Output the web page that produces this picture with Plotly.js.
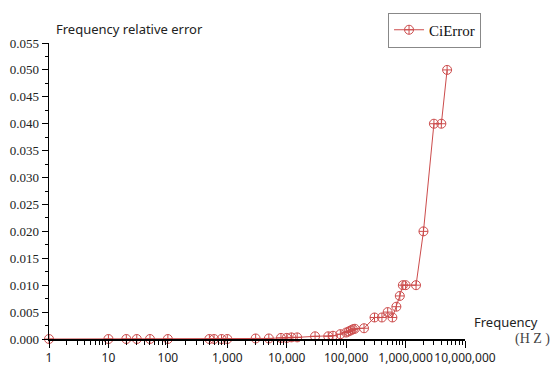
<!DOCTYPE html>
<html>
<head>
<meta charset="utf-8">
<script src="https://cdn.plot.ly/plotly-3.0.1.min.js"></script>
<style>html,body{margin:0;padding:0;background:#fff;}#chart{width:550px;height:375px;}</style>
</head>
<body>
<div id="chart"></div>
<script>
var seriesName = "CiError";
var frequency = [1, 10, 20, 30, 50, 100, 500, 600, 800, 1000, 3000, 5000, 8000, 10000, 12000, 15000, 30000, 50000, 60000, 80000, 100000, 110000, 120000, 130000, 140000, 200000, 300000, 400000, 500000, 600000, 700000, 800000, 900000, 1000000, 1500000, 2000000, 3000000, 4000000, 5000000];
var relError = [0, 0, 0, 0, 0, 0, 0, 0, 0, 0, 0.0001, 0.0001, 0.0002, 0.0002, 0.0003, 0.0003, 0.0005, 0.0005, 0.0006, 0.0009, 0.0012, 0.0014, 0.0016, 0.0018, 0.0019, 0.002, 0.004, 0.004, 0.005, 0.004, 0.006, 0.008, 0.010, 0.010, 0.010, 0.020, 0.040, 0.040, 0.050];
var yTickVals = [0, 0.005, 0.010, 0.015, 0.020, 0.025, 0.030, 0.035, 0.040, 0.045, 0.050, 0.055];
var xTickVals = [1, 10, 100, 1000, 10000, 100000, 1000000, 10000000];
var xTickText = ["1", "10", "100", "1,000", "10,000", "100,000", "1,000,000", "10,000,000"];

var red = "#cc4c4c";
var trace = {
  x: frequency, y: relError, type: "scatter", mode: "lines+markers", name: seriesName,
  line: {color: red, width: 1},
  marker: {symbol: "circle-cross-open", size: 9, color: red, line: {width: 1, color: red}},
  cliponaxis: false
};
var layout = {
  width: 550, height: 375,
  margin: {l: 49, r: 85, t: 33, b: 36},
  paper_bgcolor: "#fff", plot_bgcolor: "#fff",
  showlegend: true,
  legend: {x: 0.815, y: 1.103, xanchor: "left", yanchor: "top", bordercolor: "#888", borderwidth: 1,
           font: {family: "Liberation Serif", size: 15, color: "#111"}, bgcolor: "#fff",
           tracegroupgap: 0, itemwidth: 30},
  xaxis: {type: "log", range: [0, 7], tickvals: xTickVals, ticktext: xTickText, tickangle: 0,
          automargin: false,
          ticks: "outside", ticklen: 7, tickwidth: 1, tickcolor: "#000",
          showline: true, linecolor: "#000", linewidth: 1.5, showgrid: false, zeroline: false,
          tickfont: {family: "Noto Sans", size: 12, color: "#222"},
          minor: {ticks: "outside", ticklen: 4, tickcolor: "#000", dtick: "D1", showgrid: false}},
  yaxis: {range: [0, 0.055], tickvals: yTickVals, tickformat: ".3f", automargin: false,
          ticks: "outside", ticklen: 6, tickwidth: 1, tickcolor: "#000",
          showline: true, linecolor: "#000", linewidth: 1.5, showgrid: false, zeroline: false,
          tickfont: {family: "Liberation Serif", size: 13, color: "#222"},
          minor: {ticks: "outside", ticklen: 3, tickcolor: "#000", dtick: 0.0025, showgrid: false}},
  annotations: [
    {text: "Frequency relative error", xref: "paper", yref: "paper", x: 0.012, y: 1.01, xanchor: "left", yanchor: "bottom",
     showarrow: false, font: {family: "Noto Sans", size: 13, color: "#222"}},
    {text: "Frequency", xref: "paper", yref: "paper", x: 1.018, y: 0.02, xanchor: "left", yanchor: "bottom",
     showarrow: false, font: {family: "Noto Sans", size: 13, color: "#222"}},
    {text: "(H Z )", xref: "paper", yref: "paper", x: 1.115, y: 0.0, xanchor: "left", yanchor: "middle",
     showarrow: false, font: {family: "Liberation Serif", size: 14, color: "#444"}}
  ]
};
Plotly.newPlot("chart", [trace], layout, {displayModeBar: false, staticPlot: true});
</script>
</body>
</html>
